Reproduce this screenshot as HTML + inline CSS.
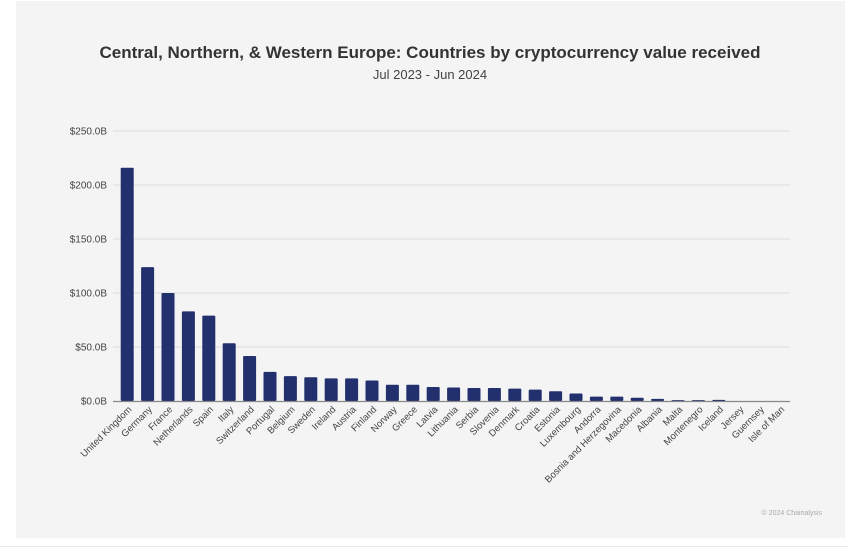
<!DOCTYPE html>
<html><head><meta charset="utf-8"><style>
html,body{margin:0;padding:0;background:#fff;}
svg{display:block;}
</style></head><body>
<svg width="848" height="550" xmlns="http://www.w3.org/2000/svg" font-family="Liberation Sans, sans-serif">
<rect x="16" y="1" width="829" height="537" fill="#f4f4f4"/>
<rect x="0" y="546" width="848" height="1" fill="#eaeaea"/>
<text x="430" y="58" text-anchor="middle" font-size="17" font-weight="bold" fill="#333">Central, Northern, &amp; Western Europe: Countries by cryptocurrency value received</text>
<text x="430" y="79" text-anchor="middle" font-size="13" fill="#444">Jul 2023 - Jun 2024</text>
<g stroke="#dcdcdc" stroke-width="1">
<line x1="113" y1="131" x2="790" y2="131"/>
<line x1="113" y1="185" x2="790" y2="185"/>
<line x1="113" y1="239" x2="790" y2="239"/>
<line x1="113" y1="293" x2="790" y2="293"/>
<line x1="113" y1="347" x2="790" y2="347"/>
</g>
<g font-size="10" fill="#444" text-anchor="end">
<text x="107" y="134.5">$250.0B</text>
<text x="107" y="188.5">$200.0B</text>
<text x="107" y="242.5">$150.0B</text>
<text x="107" y="296.5">$100.0B</text>
<text x="107" y="350.5">$50.0B</text>
<text x="107" y="404.5">$0.0B</text>
</g>
<g id="bars" fill="#22306e"></g>
<line x1="113" y1="401.5" x2="790" y2="401.5" stroke="#888" stroke-width="1.2"/>
<g id="labels" font-size="9.5" fill="#444" text-anchor="end"></g>
<text x="822" y="515" text-anchor="end" font-size="7" fill="#aaa">© 2024 Chainalysis</text>
<script>
var d=[["United Kingdom",216],["Germany",124],["France",100],["Netherlands",83],["Spain",79],["Italy",53.5],["Switzerland",41.7],["Portugal",27],["Belgium",23],["Sweden",22],["Ireland",21],["Austria",21],["Finland",19],["Norway",15],["Greece",15],["Latvia",13],["Lithuania",12.5],["Serbia",12],["Slovenia",12],["Denmark",11.5],["Croatia",10.5],["Estonia",9],["Luxembourg",7],["Andorra",4],["Bosnia and Herzegovina",4],["Macedonia",3],["Albania",2],["Malta",0.8],["Montenegro",0.8],["Iceland",1],["Jersey",0],["Guernsey",0],["Isle of Man",0]];
var b=document.getElementById('bars'),l=document.getElementById('labels'),ns="http://www.w3.org/2000/svg";
d.forEach(function(e,i){var c=127.2+i*20.4,h=e[1]*1.08;
if(h>0){var r=document.createElementNS(ns,'rect');r.setAttribute('x',c-6.5);r.setAttribute('y',401-h);r.setAttribute('width',13);r.setAttribute('height',h);r.setAttribute('rx',1);b.appendChild(r);}
var t=document.createElementNS(ns,'text');t.setAttribute('transform','translate('+(c+5)+',410) rotate(-45)');t.textContent=e[0];l.appendChild(t);});
</script>
</svg>
</body></html>
